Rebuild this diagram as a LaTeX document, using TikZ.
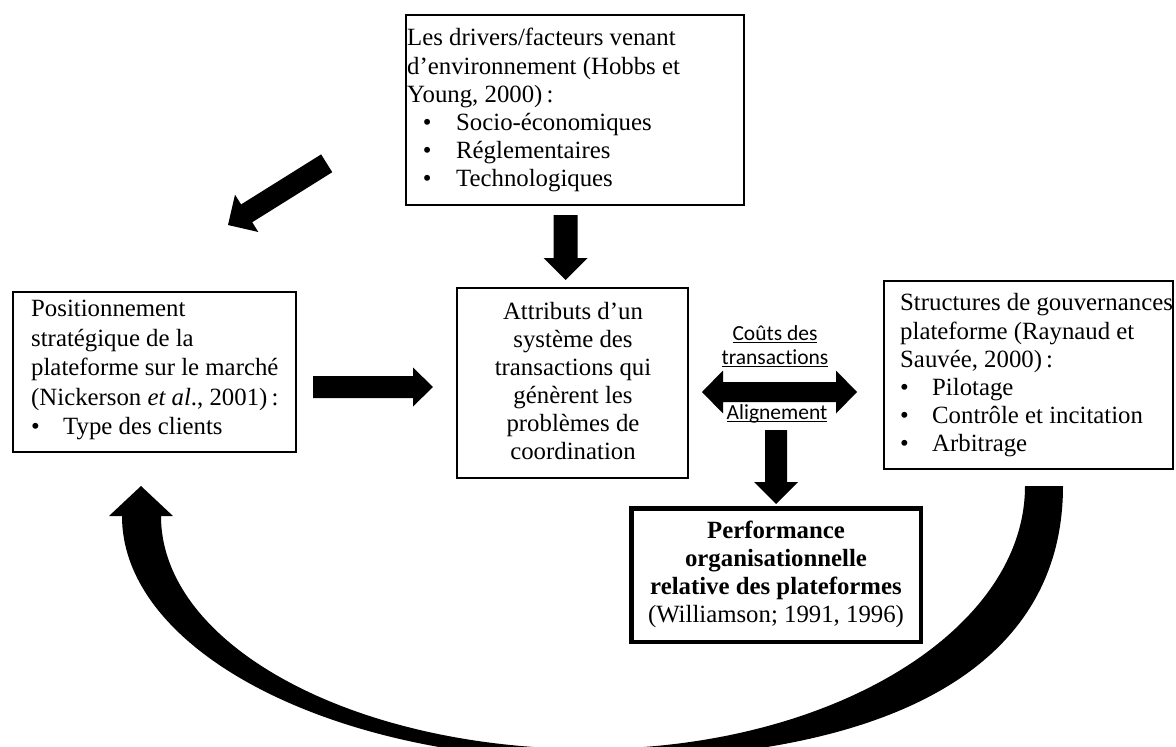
\documentclass[tikz,border=0pt]{standalone}
\usepackage{fontspec}
\setmainfont{Liberation Serif}
\newfontfamily\lblfont[Ligatures=NoCommon]{Carlito}
\usetikzlibrary{calc}
\newcommand\myul[1]{\setbox0\hbox{#1}\rlap{\rule[-2.6pt]{\wd0}{1.1pt}}\box0}
\newcommand\bul[2]{\makebox[#2][l]{\hspace{#1}•}}
\newcommand\blockarrow[5]{%
  \coordinate (ba-h) at ($(#2)!#5!(#1)$);
  \fill[black] ($(#1)!#3!90:(#2)$) -- ($(ba-h)!#3!90:(#2)$) -- ($(ba-h)!#4!90:(#2)$) -- (#2)
    -- ($(ba-h)!#4!-90:(#2)$) -- ($(ba-h)!#3!-90:(#2)$) -- ($(#1)!#3!-90:(#2)$) -- cycle;}
\newcommand\dblarrow[5]{%
  \coordinate (da-l) at ($(#1)!#5!(#2)$);
  \coordinate (da-r) at ($(#2)!#5!(#1)$);
  \fill[black] (#1) -- ($(da-l)!#4!90:(#2)$) -- ($(da-l)!#3!90:(#2)$) -- ($(da-r)!#3!90:(#2)$)
    -- ($(da-r)!#4!90:(#2)$) -- (#2) -- ($(da-r)!#4!-90:(#2)$) -- ($(da-r)!#3!-90:(#2)$)
    -- ($(da-l)!#3!-90:(#2)$) -- ($(da-l)!#4!-90:(#2)$) -- cycle;}
\begin{document}
\begin{tikzpicture}[x=1pt,y=-1pt,
  box/.style={draw=black, line width=1.8pt, inner sep=0pt, outer sep=0pt, anchor=north west},
  thickbox/.style={box, line width=4.5pt},
  txt/.style={inner sep=0pt, font=\fontsize{24.8}{28.1}\selectfont},
  txtwide/.style={inner sep=0pt, font=\fontsize{24.8}{29.5}\selectfont},
  lbl/.style={inner sep=0pt, font=\lblfont\fontsize{21.5}{24}\selectfont}]
\useasboundingbox (0,0) rectangle (1176,747);
\fill[white] (0,0) rectangle (1176,747);

% boxes
\node[box, minimum width=338pt, minimum height=190pt] (drivers) at (406,15) {};
\node[box, minimum width=283pt, minimum height=160pt] (pos) at (13,292) {};
\node[box, minimum width=231pt, minimum height=190pt] (attr) at (457,288) {};
\node[box, minimum width=289pt, minimum height=188pt] (gouv) at (884,281) {};
\node[thickbox, minimum width=289.5pt, minimum height=133.5pt] (perf) at (631.25,508.25) {};

% texts
\node[txt, align=left, anchor=north west] (driversT) at (407,25.7) {\rule{0pt}{20pt}Les drivers/facteurs venant\\
d’environnement (Hobbs et\\
Young, 2000)\,:\\
\bul{15.7pt}{49pt}Socio-économiques\\
\bul{15.7pt}{49pt}Réglementaires\\
\bul{15.7pt}{49pt}Technologiques};

\node[txtwide, align=left, anchor=north west] (posT) at (31,296.7) {\rule{0pt}{20pt}Positionnement\\
stratégique de la\\
plateforme sur le marché\\
(Nickerson \textit{et al}., 2001)\,:\\
\bul{0pt}{32pt}Type des clients};

\node[txt, align=center, anchor=north] (attrT) at (573,299) {\rule{0pt}{20pt}Attributs d’un\\
système des\\
transactions qui\\
génèrent les\\
problèmes de\\
coordination};

\node[txt, align=left, anchor=north west] (gouvT) at (900,290.7) {\rule{0pt}{20pt}Structures de gouvernances\\
plateforme (Raynaud et\\
Sauvée, 2000)\,:\\
\bul{0pt}{32pt}Pilotage\\
\bul{0pt}{32pt}Contrôle et incitation\\
\bul{0pt}{32pt}Arbitrage};

\node[txt, align=center, anchor=north] (perfT) at (776,518.3) {\rule{0pt}{20pt}\textbf{Performance}\\
\textbf{organisationnelle}\\
\textbf{relative des plateformes}\\
(Williamson; 1991, 1996)};

% labels
\node[lbl, anchor=base] (couts1) at (775,340) {\myul{Coûts des}};
\node[lbl, anchor=base] (couts2) at (775,364) {\myul{transactions}};
\node[lbl, anchor=base] (alig) at (777,419.5) {\myul{Alignement}};

% block arrows
\coordinate (a1t) at (326.7,163.3); \coordinate (a1h) at (228,225);
\blockarrow{a1t}{a1h}{10.5pt}{22pt}{22pt}
\coordinate (a2t) at (565.5,215); \coordinate (a2h) at (565.5,280);
\blockarrow{a2t}{a2h}{12pt}{22pt}{22pt}
\coordinate (a3t) at (313,387); \coordinate (a3h) at (433,387);
\blockarrow{a3t}{a3h}{11pt}{19.5pt}{20pt}
\coordinate (a4l) at (702,392); \coordinate (a4r) at (857,392);
\dblarrow{a4l}{a4r}{10pt}{21.5pt}{21pt}
\coordinate (a5t) at (776,430); \coordinate (a5h) at (776,504);
\blockarrow{a5t}{a5h}{11pt}{22pt}{22pt}

% curved return arrow
\begin{scope}
\clip (0,0) rectangle (1176,747);
\fill[black] (1025,486) -- (1063,486)
  .. controls (1063,664) and (897,760) .. (590,760)
  .. controls (332,760) and (122,651) .. (122,516)
  -- (109,516) -- (141,486) -- (173,516) -- (161,516)
  .. controls (161,645) and (353,749) .. (590,749)
  .. controls (830,749) and (1025,631) .. (1025,486) -- cycle;
\end{scope}
\end{tikzpicture}
\end{document}
